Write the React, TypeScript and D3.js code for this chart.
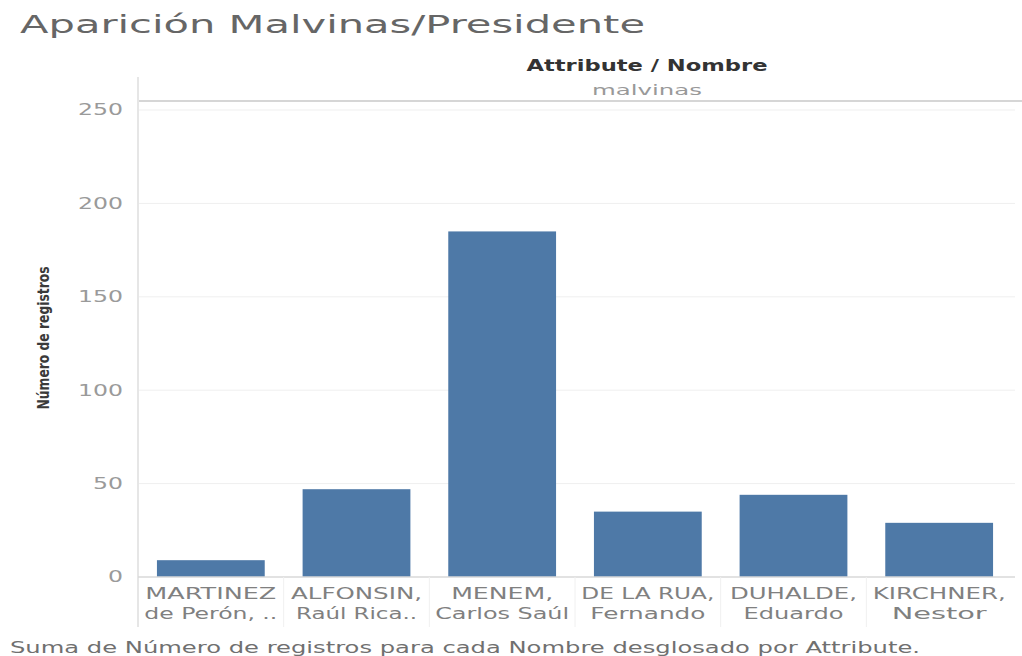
import React from 'react';
import * as d3 from 'd3';

// data
const nombres = ['MARTINEZ', 'ALFONSIN', 'MENEM', 'DE LA RUA', 'DUHALDE', 'KIRCHNER'];
const labelTop = ['MARTINEZ', 'ALFONSIN,', 'MENEM,', 'DE LA RUA,', 'DUHALDE,', 'KIRCHNER,'];
const labelBottom = ['de Perón, ..', 'Raúl Rica..', 'Carlos Saúl', 'Fernando', 'Eduardo', 'Nestor'];
const registros = [9, 47, 185, 35, 44, 29];
const yTicks = [0, 50, 100, 150, 200, 250];

// rendered widths of the label lines (style only)
const topWidths = [131, 131, 102, 133, 127, 133];
const bottomWidths = [133, 121, 134, 115, 100, 95];

const W = 1022;
const H = 656;
const plot = { left: 138, right: 1012, top: 110, bottom: 577 };
const font = '"DejaVu Sans", "Open Sans", sans-serif';

const App: React.FC = () => {
  const x = d3.scaleBand<string>()
    .domain(nombres)
    .range([plot.left, plot.right])
    .paddingInner(0.26)
    .paddingOuter(0.13);

  const y = d3.scaleLinear()
    .domain([0, 250])
    .range([plot.bottom, plot.top]);

  const gap = x.step() * x.paddingInner();

  return (
    <svg width={W} height={H} style={{ position: 'absolute', left: 0, top: 0, background: '#fff' }}>
      {/* title */}
      <text x={20} y={33} fontFamily={font} fontSize={25} fill="#666"
        textLength={625} lengthAdjust="spacingAndGlyphs">Aparición Malvinas/Presidente</text>

      {/* header */}
      <text x={647} y={71} textAnchor="middle" fontFamily={font} fontSize={15} fontWeight="bold" fill="#333"
        textLength={241} lengthAdjust="spacingAndGlyphs">Attribute / Nombre</text>
      <text x={647} y={95} textAnchor="middle" fontFamily={font} fontSize={14} fill="#999"
        textLength={110} lengthAdjust="spacingAndGlyphs">malvinas</text>
      <line x1={plot.left} x2={W} y1={101} y2={101} stroke="#d6d6d6" strokeWidth={2} />

      {/* grid */}
      {yTicks.filter(t => t > 0).map(t => (
        <line key={t} x1={plot.left} x2={1015} y1={y(t)} y2={y(t)} stroke="#efefef" strokeWidth={1} />
      ))}

      {/* y axis */}
      <line x1={plot.left} x2={plot.left} y1={77} y2={627} stroke="#e6e6e6" strokeWidth={2} />
      {yTicks.map(t => (
        <text key={t} x={123} y={y(t)} dy="0.36em" textAnchor="end" fontFamily={font} fontSize={15} fill="#9a9a9a"
          textLength={String(t).length * 15} lengthAdjust="spacingAndGlyphs">{t}</text>
      ))}
      <text transform={`translate(49,338) rotate(-90)`} textAnchor="middle" fontFamily={font} fontSize={16}
        fontWeight="bold" fill="#3a3a3a" textLength={143} lengthAdjust="spacingAndGlyphs">Número de registros</text>

      {/* bars */}
      {nombres.map((n, i) => (
        <rect key={n} x={x(n)} y={y(registros[i])} width={x.bandwidth()}
          height={y(0) - y(registros[i])} fill="#4e79a7" />
      ))}

      {/* x axis */}
      <line x1={plot.left} x2={1015} y1={y(0)} y2={y(0)} stroke="#d9d9d9" strokeWidth={1.5} />
      {nombres.slice(1).map(n => (
        <line key={n} x1={(x(n) as number) - gap / 2} x2={(x(n) as number) - gap / 2}
          y1={y(0)} y2={627} stroke="#f0f0f0" strokeWidth={1} />
      ))}
      {nombres.map((n, i) => {
        const cx = (x(n) as number) + x.bandwidth() / 2;
        return (
          <g key={n} fontFamily={font} fontSize={16} fill="#808080" textAnchor="middle">
            <text x={cx} y={599} textLength={topWidths[i]} lengthAdjust="spacingAndGlyphs">{labelTop[i]}</text>
            <text x={cx} y={619} textLength={bottomWidths[i]} lengthAdjust="spacingAndGlyphs">{labelBottom[i]}</text>
          </g>
        );
      })}

      {/* footer */}
      <text x={10} y={653} fontFamily={font} fontSize={15} fill="#707070"
        textLength={910} lengthAdjust="spacingAndGlyphs">Suma de Número de registros para cada Nombre desglosado por Attribute.</text>
    </svg>
  );
};

export default App;
